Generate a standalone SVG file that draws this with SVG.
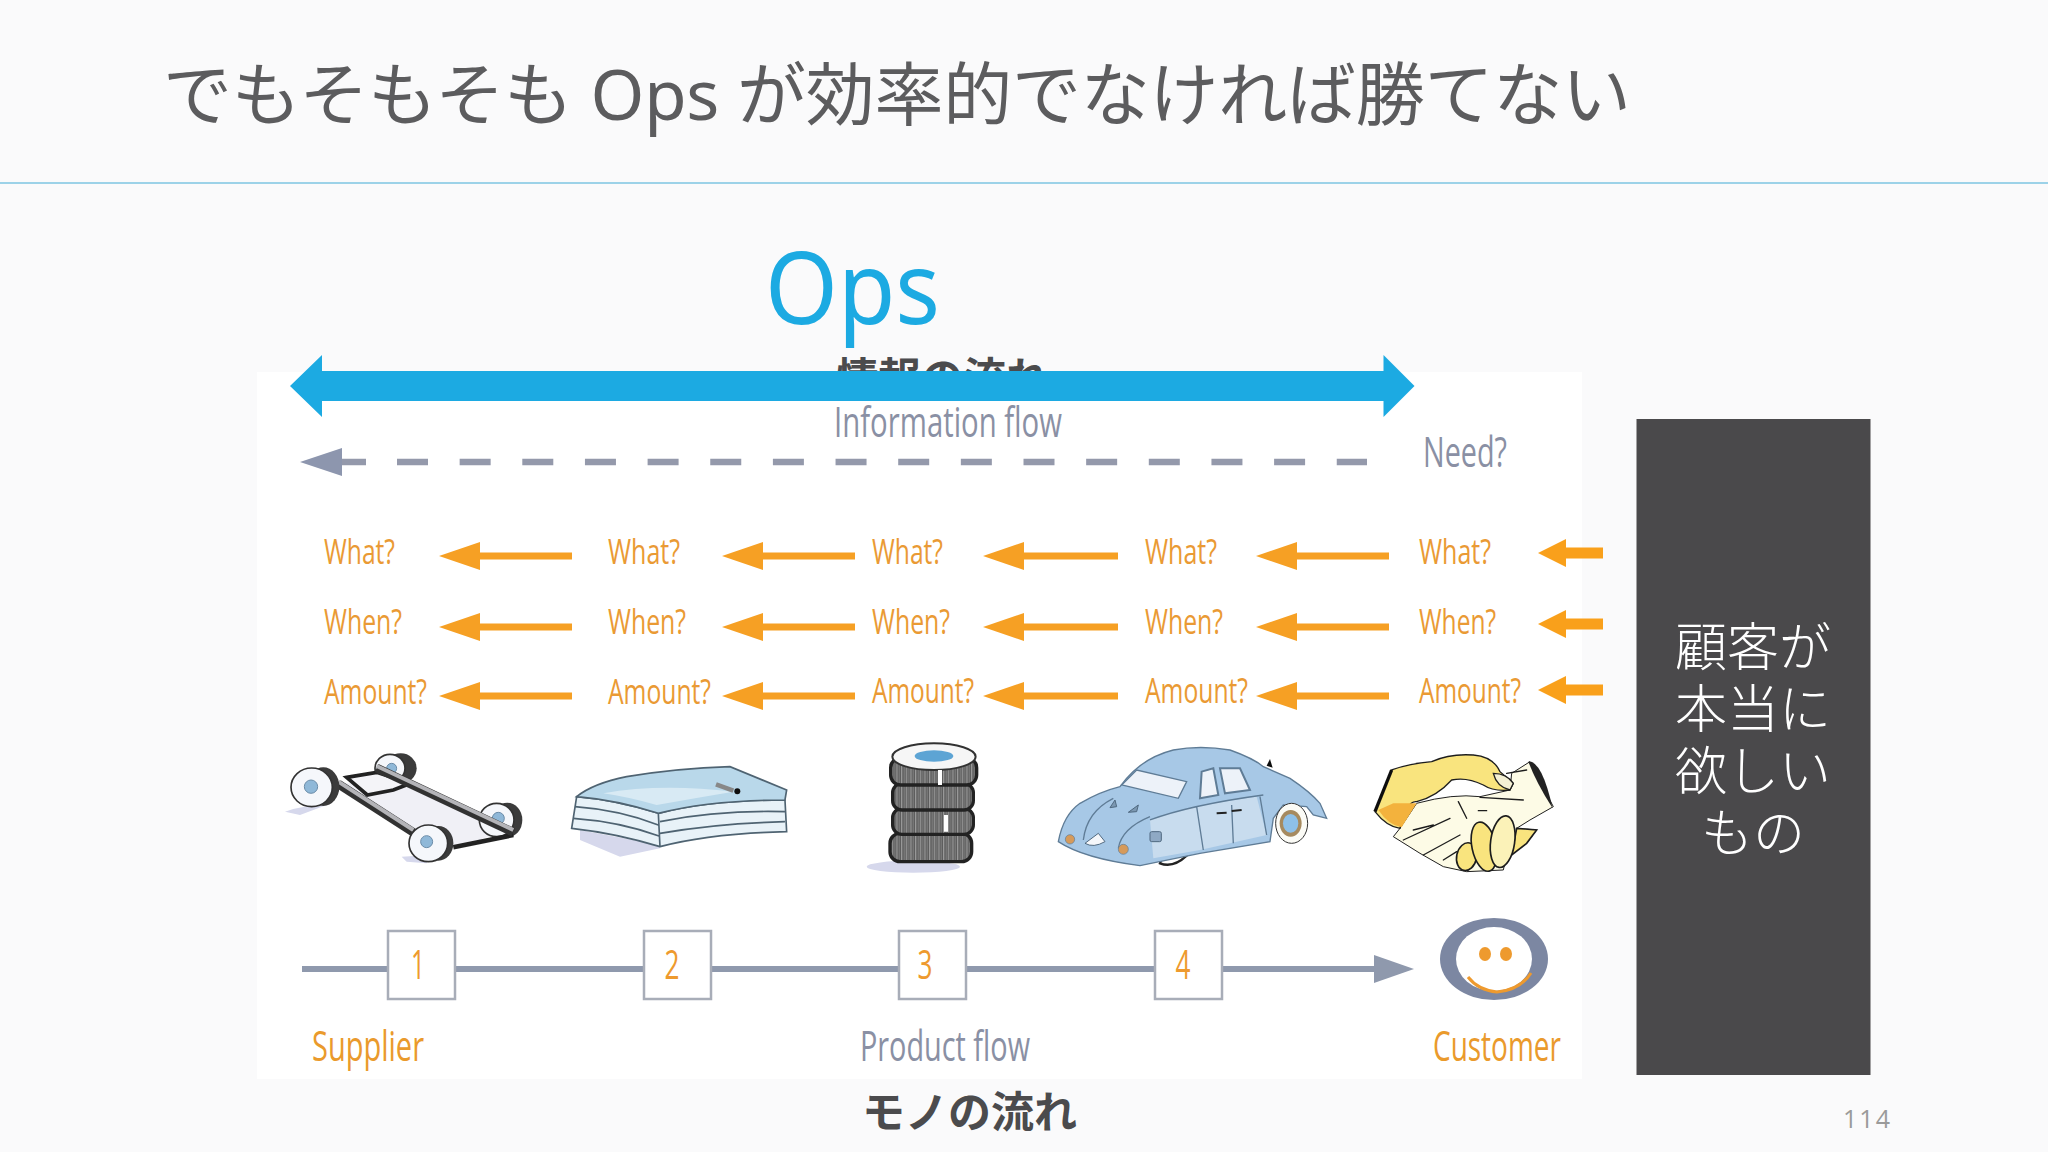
<svg xmlns="http://www.w3.org/2000/svg" width="2048" height="1152" viewBox="0 0 2048 1152">
<style>
text{font-family:"Open Sans","Noto Sans CJK JP",sans-serif}
.jp{font-family:"Noto Sans","Noto Sans CJK JP",sans-serif}
.o{fill:#ea9a34;font-size:34px;font-weight:500}
.g{fill:#8a90a4;font-size:42px;font-weight:500}
.ob{fill:#ea9a2c;font-size:42px;font-weight:500}
.d{fill:#ee9a2e;font-size:40px;text-anchor:middle}
.oa{stroke:#f6a024;stroke-width:7;fill:none;marker-end:url(#mo)}
.ra{stroke:#f9a01b;stroke-width:11;fill:none;marker-end:url(#mr)}
.box{fill:#fff;stroke:#a8adb8;stroke-width:2.5}
.ln{stroke:#8f99ad;stroke-width:6;fill:none}
.wf{fill:#f5f7fb;stroke:#333;stroke-width:5}
.wb{fill:#3a3a3a}
.hub{fill:#8fb8d8;stroke:#6a8ca8;stroke-width:3}
.ink{fill:none;stroke:#1f1f1f;stroke-width:4;stroke-linecap:round}
.sl{fill:none;stroke:#4f6472;stroke-width:5}
.t{fill:url(#tread);stroke:#222;stroke-width:10}
.cl{fill:none;stroke:#5f7c96;stroke-width:4}
.sh{fill:#d6d8ec}
.fg{fill:#f9e47e;stroke:#1f1f1f;stroke-width:5}
</style>
<defs>
<marker id="mo" markerUnits="userSpaceOnUse" markerWidth="41" markerHeight="28" viewBox="0 0 41 28" refX="0" refY="14" orient="auto"><path d="M0 0L41 14L0 28Z" fill="#f6a024"/></marker>
<marker id="mr" markerUnits="userSpaceOnUse" markerWidth="28" markerHeight="28" viewBox="0 0 28 28" refX="0" refY="14" orient="auto"><path d="M0 0L28 14L0 28Z" fill="#f9a01b"/></marker>
<pattern id="tread" patternUnits="userSpaceOnUse" width="14" height="20"><rect width="14" height="20" fill="#9a9a9a"/><path d="M3 0V20M9 0V20" stroke="#4e4e4e" stroke-width="3.5"/></pattern>
<filter id="soft" x="-5%" y="-5%" width="110%" height="110%"><feGaussianBlur stdDeviation="1.6"/></filter>
</defs>
<rect width="2048" height="1152" fill="#fafafb"/>
<g id="title">
<text class="jp" x="163" y="120" font-size="69" font-weight="400" fill="#5c5c5e" textLength="1468" lengthAdjust="spacing">でもそもそも Ops が効率的でなければ勝てない</text>
<line x1="0" y1="183" x2="2048" y2="183" stroke="#7cc5e2" stroke-width="1.6"/>
</g>
<g id="info-flow-jp"><text class="jp" x="836" y="393" font-size="42.5" font-weight="700" fill="#4b4b4d">情報の流れ</text></g>
<rect id="photo" x="257" y="372" width="1325" height="707" fill="#fff"/>
<g id="ops"><text class="jp" x="765" y="324" font-size="100" font-weight="400" fill="#1caae2" textLength="175" lengthAdjust="spacingAndGlyphs">Ops</text></g>
<g id="connectors">
<path d="M290 386L322 355V371H1383.5V355L1414.5 386L1383.5 417V401H322V417Z" fill="#1caae2"/>
<path d="M300 462L342 448V476Z" fill="#8d96ae"/>
<line x1="342" y1="462" x2="366" y2="462" stroke="#9499ab" stroke-width="6.5"/>
<line x1="397" y1="462" x2="1367" y2="462" stroke="#9499ab" stroke-width="6.5" stroke-dasharray="31 31.65"/>
<line class="oa" x1="572" y1="556" x2="480" y2="556"/><line class="oa" x1="855" y1="556" x2="763" y2="556"/><line class="oa" x1="1118" y1="556" x2="1024" y2="556"/><line class="oa" x1="1389" y1="556" x2="1297" y2="556"/>
<line class="oa" x1="572" y1="627" x2="480" y2="627"/><line class="oa" x1="855" y1="627" x2="763" y2="627"/><line class="oa" x1="1118" y1="627" x2="1024" y2="627"/><line class="oa" x1="1389" y1="627" x2="1297" y2="627"/>
<line class="oa" x1="572" y1="696" x2="480" y2="696"/><line class="oa" x1="855" y1="696" x2="763" y2="696"/><line class="oa" x1="1118" y1="696" x2="1024" y2="696"/><line class="oa" x1="1389" y1="696" x2="1297" y2="696"/>
<line class="ra" x1="1603" y1="553" x2="1566" y2="553"/><line class="ra" x1="1603" y1="624" x2="1566" y2="624"/><line class="ra" x1="1603" y1="690" x2="1566" y2="690"/>
<line class="ln" x1="302" y1="969" x2="1374" y2="969"/>
<path d="M1374 955L1414 969L1374 983Z" fill="#8f99ad"/>
</g>
<g id="info-labels">
<text class="g" x="834" y="437" textLength="228" lengthAdjust="spacingAndGlyphs">Information flow</text>
<text class="g" x="1423" y="467" textLength="84" lengthAdjust="spacingAndGlyphs">Need?</text>
</g>
<g id="col1">
<text class="o" x="324" y="564" textLength="71" lengthAdjust="spacingAndGlyphs">What?</text>
<text class="o" x="324" y="634" textLength="78" lengthAdjust="spacingAndGlyphs">When?</text>
<text class="o" x="324" y="704" textLength="103" lengthAdjust="spacingAndGlyphs">Amount?</text>
</g>
<g id="col2">
<text class="o" x="608" y="564" textLength="72" lengthAdjust="spacingAndGlyphs">What?</text>
<text class="o" x="608" y="634" textLength="78" lengthAdjust="spacingAndGlyphs">When?</text>
<text class="o" x="608" y="704" textLength="103" lengthAdjust="spacingAndGlyphs">Amount?</text>
</g>
<g id="col3">
<text class="o" x="872" y="564" textLength="71" lengthAdjust="spacingAndGlyphs">What?</text>
<text class="o" x="872" y="634" textLength="78" lengthAdjust="spacingAndGlyphs">When?</text>
<text class="o" x="872" y="703" textLength="102" lengthAdjust="spacingAndGlyphs">Amount?</text>
</g>
<g id="col4">
<text class="o" x="1145" y="564" textLength="72" lengthAdjust="spacingAndGlyphs">What?</text>
<text class="o" x="1145" y="634" textLength="78" lengthAdjust="spacingAndGlyphs">When?</text>
<text class="o" x="1145" y="703" textLength="103" lengthAdjust="spacingAndGlyphs">Amount?</text>
</g>
<g id="col5">
<text class="o" x="1419" y="564" textLength="72" lengthAdjust="spacingAndGlyphs">What?</text>
<text class="o" x="1419" y="634" textLength="77" lengthAdjust="spacingAndGlyphs">When?</text>
<text class="o" x="1419" y="703" textLength="102" lengthAdjust="spacingAndGlyphs">Amount?</text>
</g>
<g id="chassis" transform="translate(280 740) scale(.3333)" filter="url(#soft)">
<path class="sh" d="M15 215Q70 195 140 195L60 225ZM365 350L450 345L440 370L380 365ZM560 285L640 270L600 300Z"/>
<ellipse class="wb" cx="362" cy="85" rx="48" ry="45"/><ellipse class="wf" cx="330" cy="85" rx="45" ry="42"/><circle class="hub" cx="335" cy="85" r="15"/>
<path d="M190 130L400 130L700 270L520 320L385 265Z" fill="#f0f0f6"/>
<path d="M200 112L290 97L392 130L340 150L262 165Z" fill="#f4f4f8" stroke="#222" stroke-width="11"/>
<ellipse class="wb" cx="682" cy="240" rx="45" ry="52"/><ellipse class="wf" cx="650" cy="240" rx="52" ry="50"/><circle class="hub" cx="655" cy="235" r="18"/>
<path d="M520 322L700 285" stroke="#222" stroke-width="14"/>
<path d="M175 132L400 277M290 84L700 277" stroke="#333" stroke-width="26"/>
<path d="M175 125L400 270M290 78L700 270" stroke="#b4b4b8" stroke-width="12"/>
<ellipse class="wb" cx="475" cy="310" rx="45" ry="52"/><ellipse class="wf" cx="445" cy="310" rx="58" ry="55"/><circle class="hub" cx="440" cy="305" r="18"/>
<ellipse class="wb" cx="130" cy="140" rx="48" ry="58"/><ellipse class="wf" cx="95" cy="142" rx="62" ry="58"/><circle class="hub" cx="93" cy="140" r="20"/>
</g>
<g id="sheets" transform="translate(560 750) scale(.3333)" filter="url(#soft)">
<path class="sh" d="M60 240L300 285L300 295L180 320L60 270Z"/>
<path class="sl" style="fill:#e8f2f8" d="M50 140Q170 150 295 190Q450 150 675 150L680 245Q450 250 300 290Q170 250 35 235Z"/>
<path class="sl" style="fill:#b9d8ea" d="M50 140Q100 100 200 80Q350 55 510 50L680 120L675 150Q450 150 295 190Q170 150 50 140Z"/>
<path d="M130 130Q300 100 520 125Q400 145 290 165Q200 140 130 130Z" fill="#d8eaf4"/>
<path class="sl" d="M45 170Q180 180 295 225M40 205Q180 215 297 258M300 215Q470 180 675 185M300 250Q470 220 675 215M295 190L300 290"/>
<path d="M468 103L520 122" stroke="#888" stroke-width="14"/><circle cx="532" cy="124" r="9" fill="#111"/>
</g>
<g id="tires" transform="translate(860 735) scale(.3333)" filter="url(#soft)">
<ellipse class="sh" cx="160" cy="395" rx="140" ry="18"/>
<rect class="t" x="90" y="295" width="245" height="85" rx="30"/>
<rect class="t" x="98" y="220" width="242" height="78" rx="28"/>
<rect class="t" x="98" y="145" width="242" height="80" rx="28"/>
<rect class="t" x="92" y="68" width="258" height="82" rx="30"/>
<ellipse cx="222" cy="65" rx="125" ry="40" fill="#f6f6f6" stroke="#333" stroke-width="6"/>
<ellipse cx="222" cy="63" rx="58" ry="17" fill="#5da4d4"/>
<path d="M240 105V150M258 240V290" stroke="#fff" stroke-width="12"/>
</g>
<g id="car" transform="translate(1050 735) scale(.3333)" filter="url(#soft)">
<path d="M330 385Q370 400 410 362L340 360Z" fill="#fff" stroke="#222" stroke-width="7"/>
<path d="M650 92L660 72L668 98Z" fill="#111"/>
<path fill="#a7c8e6" stroke="#5f7c96" stroke-width="4" d="M25 320Q40 240 90 205Q150 170 210 155Q270 70 370 45Q450 30 540 45Q610 70 640 95L720 130Q780 170 810 205L830 250L790 240L770 215L700 210L670 250L660 320L450 355L270 392Q100 370 25 320Z"/>
<path d="M300 255Q420 210 620 185L650 300L450 345L310 370Z" fill="#c8dcee"/>
<path fill="#edf2f9" stroke="#5f7c96" stroke-width="4" d="M215 150L260 105L410 140L385 190Z"/>
<path fill="#edf2f9" stroke="#5f7c96" stroke-width="6" d="M455 110L490 100L505 180L450 190Z"/>
<path fill="#edf2f9" stroke="#5f7c96" stroke-width="6" d="M510 100L570 100L600 165L525 175Z"/>
<path class="cl" d="M440 215L460 345M545 210L550 325M630 185L650 300M300 255Q420 210 640 180M100 315Q110 230 190 190M205 340Q215 280 300 245"/>
<path d="M500 235L530 233M545 228L575 225" stroke="#222" stroke-width="6"/>
<path d="M180 218L195 195L200 215ZM235 232L265 210L260 230Z" fill="#7b98b2" stroke="#4f6880" stroke-width="3"/>
<ellipse cx="725" cy="265" rx="48" ry="60" fill="#fbfbf6" stroke="#333" stroke-width="3"/>
<ellipse cx="722" cy="265" rx="33" ry="40" fill="#a68a5e"/><ellipse cx="722" cy="265" rx="23" ry="28" fill="#8ec0e8"/>
<circle cx="60" cy="313" r="14" fill="#d69a5a" stroke="#5f7c96" stroke-width="2"/><circle cx="220" cy="343" r="15" fill="#d69a5a" stroke="#5f7c96" stroke-width="2"/>
<path d="M105 325L145 295L165 320Q130 340 105 325Z" fill="#f5f7fa" stroke="#4f6880" stroke-width="3"/>
<rect x="300" y="290" width="34" height="30" rx="5" fill="#8fa9c4" stroke="#4f6880" stroke-width="3"/>
</g>
<g id="handshake" transform="translate(1360 740) scale(.3333)" filter="url(#soft)">
<path fill="#fdfbe6" stroke="#1f1f1f" stroke-width="3" d="M170 190Q280 160 360 170L450 150L455 100L510 65L580 200L510 240L470 265L530 270L500 310L440 345L430 390L320 395L250 380L180 340L100 290L120 265Z"/>
<path fill="#f9e47e" stroke="#1f1f1f" stroke-width="4" d="M45 215L95 90Q150 70 215 65Q270 40 340 45Q400 50 420 95L460 130L450 150Q400 155 370 135Q320 110 275 120Q230 170 170 185Q140 180 120 265Q80 260 45 215Z"/>
<path d="M55 210L100 190L170 190L125 262Q85 255 55 210Z" fill="#f3b23e"/>
<path d="M95 90L45 215" stroke="#111" stroke-width="10"/>
<path d="M400 100Q440 100 460 130L450 150Q410 140 400 100Z" fill="#f4f0d4" stroke="#1f1f1f" stroke-width="4"/>
<path class="fg" d="M470 265L530 270L500 310L455 345Z"/>
<ellipse class="fg" cx="320" cy="350" rx="30" ry="42" transform="rotate(12 320 350)"/>
<ellipse class="fg" cx="372" cy="320" rx="36" ry="75" transform="rotate(-12 372 320)"/>
<ellipse class="fg" cx="428" cy="305" rx="36" ry="78" transform="rotate(8 428 305)" style="fill:#fbf2b8"/>
<path d="M505 65Q545 60 578 205Q530 130 505 65Z" fill="#222"/>
<path class="ink" d="M360 172L490 180M355 212L380 212M295 185L320 235M130 300L270 235M190 345L300 285M250 360L290 335M160 270L220 255M440 100L500 90"/>
</g>
<g id="step1"><rect class="box" x="388" y="931" width="67" height="68"/><text class="d" x="418" y="979" textLength="14" lengthAdjust="spacingAndGlyphs">1</text></g>
<g id="step2"><rect class="box" x="644" y="931" width="67" height="68"/><text class="d" x="672" y="979" textLength="15" lengthAdjust="spacingAndGlyphs">2</text></g>
<g id="step3"><rect class="box" x="899" y="931" width="67" height="68"/><text class="d" x="925" y="979" textLength="15" lengthAdjust="spacingAndGlyphs">3</text></g>
<g id="step4"><rect class="box" x="1155" y="931" width="67" height="68"/><text class="d" x="1183" y="979" textLength="15" lengthAdjust="spacingAndGlyphs">4</text></g>
<g id="customer-icon">
<ellipse cx="1494" cy="959" rx="54" ry="41" fill="#7c87a2"/>
<ellipse cx="1494" cy="959" rx="38" ry="32" fill="#fff"/>
<ellipse cx="1485" cy="954" rx="6" ry="7" fill="#ee9a2e"/><ellipse cx="1506" cy="954" rx="6" ry="7" fill="#ee9a2e"/>
<path d="M1468 977Q1478 990 1497 992Q1520 990 1531 973" fill="none" stroke="#ee9a2e" stroke-width="3"/>
</g>
<g id="flow-labels">
<text class="ob" x="312" y="1061" textLength="112" lengthAdjust="spacingAndGlyphs">Supplier</text>
<text class="g" x="860" y="1061" textLength="170" lengthAdjust="spacingAndGlyphs">Product flow</text>
<text class="ob" x="1433" y="1061" textLength="128" lengthAdjust="spacingAndGlyphs">Customer</text>
</g>
<g id="goods-flow-jp"><text class="jp" x="862" y="1128" font-size="43" font-weight="700" fill="#4b4b4d">モノの流れ</text></g>
<g id="customer-need">
<rect x="1636.5" y="419" width="234" height="656" fill="#4a494b"/>
<g class="jp" fill="#fff" font-size="52" font-weight="300" text-anchor="middle">
<text x="1753" y="666">顧客が</text>
<text x="1753" y="728">本当に</text>
<text x="1753" y="790">欲しい</text>
<text x="1753" y="852">もの</text>
</g>
</g>
<g id="page"><text x="1843" y="1128" font-size="25" fill="#9a9a9a" textLength="47">114</text></g>
</svg>
